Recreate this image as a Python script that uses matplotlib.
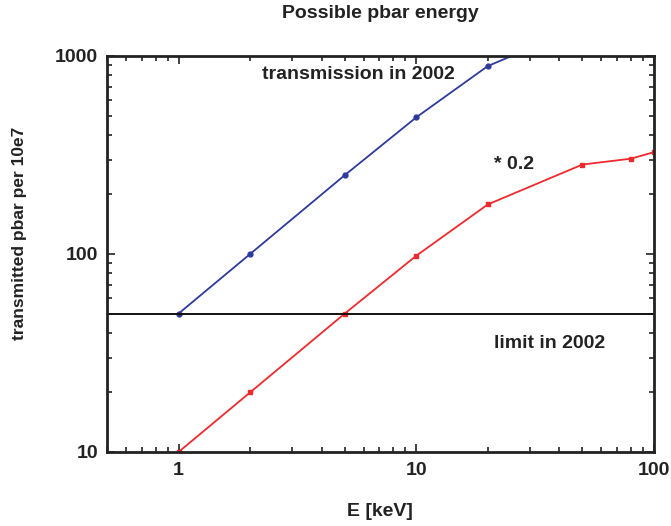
import matplotlib
matplotlib.use("Agg")
import matplotlib.pyplot as plt
from matplotlib.ticker import LogLocator, FixedLocator, FixedFormatter, NullFormatter

plt.rcParams['font.family'] = ['Liberation Sans', 'DejaVu Sans']
plt.rcParams['font.weight'] = 'bold'

# Energies (keV) and transmitted pbar per 10e7
energy = [1, 2, 5, 10, 20, 50, 80, 100]
transmission_2002 = [50, 100, 250, 490, 890, 1415, 1515, 1635]
scale = 0.2
scaled = [v * scale for v in transmission_2002]
limit_2002 = 50

x_ticks = [1, 10, 100]
x_ticklabels = ['1', '10', '100']
y_ticks = [10, 100, 1000]
y_ticklabels = ['10', '100', '1000']

W, H = 671, 526
fig = plt.figure(figsize=(W / 100, H / 100), dpi=100)
ax = fig.add_axes([107 / W, 1 - 452 / H, (654 - 107) / W, (452 - 56) / H])

ax.plot(energy, transmission_2002, color='#2e3a9c', lw=1.3, marker='o', ms=3.5)
ax.plot(energy, scaled, color='#ee2a2e', lw=1.3, marker='s', ms=3.5)
ax.axhline(limit_2002, color='#111111', lw=1.4)

ax.set_xscale('log')
ax.set_yscale('log')
ax.set_xlim(0.5, 100)
ax.set_ylim(10, 1000)

ax.xaxis.set_major_locator(FixedLocator(x_ticks))
ax.xaxis.set_major_formatter(FixedFormatter(x_ticklabels))
ax.yaxis.set_major_locator(FixedLocator(y_ticks))
ax.yaxis.set_major_formatter(FixedFormatter(y_ticklabels))
ax.xaxis.set_minor_locator(LogLocator(base=10, subs=range(2, 10), numticks=20))
ax.yaxis.set_minor_locator(LogLocator(base=10, subs=range(2, 10), numticks=20))
ax.xaxis.set_minor_formatter(NullFormatter())
ax.yaxis.set_minor_formatter(NullFormatter())

ax.tick_params(which='both', direction='in', top=True, right=True, width=1.2,
               color='#222222')
ax.tick_params(which='major', length=6, labelsize=14)
ax.tick_params(axis='y', which='major', pad=6.5)
ax.tick_params(axis='x', which='major', pad=7)
ax.tick_params(which='minor', length=3.5)
for lab in ax.get_xticklabels() + ax.get_yticklabels():
    lab.set_fontweight('bold')
    lab.set_color('#222222')
for sp in ax.spines.values():
    sp.set_linewidth(2)
    sp.set_color('#222222')

txt = dict(fontsize=14, fontweight='bold', color='#222222', va='center', ha='left')
ax.text(2.25, 802, 'transmission in 2002', **txt)
ax.text(21.3, 282, '* 0.2', **txt)
ax.text(21.3, 35.5, 'limit in 2002', **txt)

fig.text(380 / W, 1 - 13 / H, 'Possible pbar energy', fontsize=14,
         fontweight='bold', color='#222222', ha='center', va='center')
fig.text(380 / W, 1 - 512 / H, 'E [keV]', fontsize=14, fontweight='bold',
         color='#222222', ha='center', va='center')
fig.text(20 / W, 1 - 233 / H, 'transmitted pbar per 10e7', fontsize=12.5,
         fontweight='bold', color='#222222', ha='center', va='center',
         rotation=90)

fig.savefig('out.png', dpi=100)
